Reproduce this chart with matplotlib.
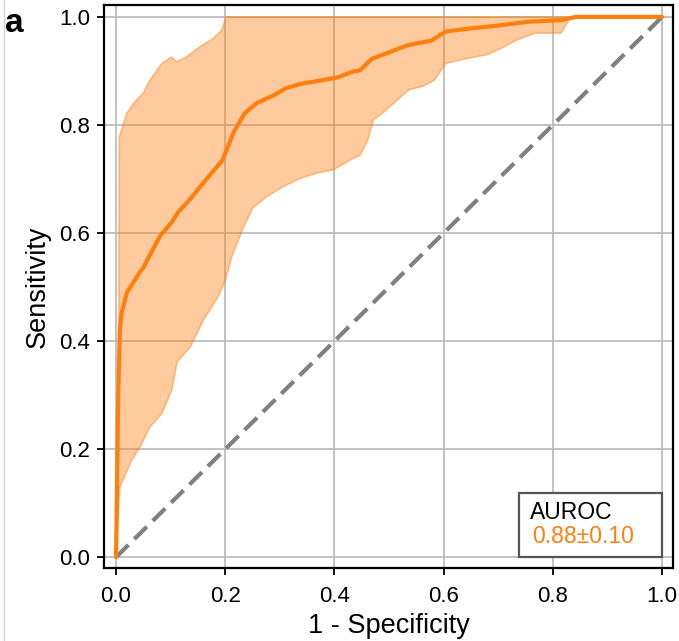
import matplotlib
matplotlib.use("Agg")
import matplotlib.pyplot as plt
from matplotlib.patches import Rectangle
from matplotlib.lines import Line2D

plt.rcParams['font.family'] = ['Liberation Sans', 'DejaVu Sans']

# Mean ROC curve (1 - specificity, sensitivity)
mean_fpr = [0.0, 0.002, 0.004, 0.007, 0.010, 0.020, 0.044, 0.050, 0.062, 0.081,
            0.102, 0.114, 0.136, 0.160, 0.195, 0.216, 0.236, 0.257, 0.291,
            0.311, 0.338, 0.379, 0.406, 0.434, 0.447, 0.468, 0.509, 0.536,
            0.577, 0.604, 0.652, 0.692, 0.754, 0.815, 0.842, 1.0]
mean_tpr = [0.0, 0.15, 0.30, 0.42, 0.451, 0.490, 0.528, 0.536, 0.559, 0.595,
            0.620, 0.639, 0.663, 0.693, 0.735, 0.788, 0.822, 0.840, 0.856,
            0.868, 0.876, 0.883, 0.888, 0.899, 0.901, 0.922, 0.938, 0.948,
            0.956, 0.973, 0.979, 0.983, 0.991, 0.994, 1.0, 1.0]

# Upper bound of the spread across folds
upper_fpr = [0.0, 0.004, 0.006, 0.020, 0.032, 0.050, 0.062, 0.084, 0.102,
             0.111, 0.129, 0.154, 0.178, 0.194, 0.201, 1.0]
upper_tpr = [0.0, 0.10, 0.778, 0.822, 0.840, 0.859, 0.883, 0.914, 0.926,
             0.917, 0.926, 0.945, 0.960, 0.976, 1.0, 1.0]

# Lower bound of the spread across folds
lower_fpr = [0.0, 0.004, 0.007, 0.029, 0.044, 0.062, 0.084, 0.102, 0.112,
             0.136, 0.160, 0.187, 0.200, 0.212, 0.233, 0.251, 0.276, 0.306,
             0.337, 0.368, 0.398, 0.434, 0.447, 0.461, 0.471, 0.488, 0.515,
             0.536, 0.563, 0.583, 0.604, 0.638, 0.679, 0.706, 0.733, 0.767,
             0.815, 0.829, 0.842, 1.0]
lower_tpr = [0.0, 0.08, 0.130, 0.180, 0.204, 0.241, 0.266, 0.309, 0.362,
             0.389, 0.439, 0.482, 0.512, 0.556, 0.610, 0.647, 0.667, 0.686,
             0.701, 0.711, 0.717, 0.738, 0.744, 0.772, 0.809, 0.822, 0.846,
             0.865, 0.872, 0.883, 0.914, 0.922, 0.930, 0.942, 0.957, 0.970,
             0.970, 0.994, 1.0, 1.0]

auroc_title = "AUROC"
auroc_text = "0.88\u00b10.10"
x_ticks = [0.0, 0.2, 0.4, 0.6, 0.8, 1.0]
y_ticks = [0.0, 0.2, 0.4, 0.6, 0.8, 1.0]

orange = '#ff7f0e'

fig = plt.figure(figsize=(6.79, 6.41), dpi=100)
ax = fig.add_axes([0.1532, 0.1139, 0.838, 0.8783])

# shaded band between the lower and upper bounds
band_x = upper_fpr + lower_fpr[::-1]
band_y = upper_tpr + lower_tpr[::-1]
ax.fill(band_x, band_y, facecolor=orange, alpha=0.4, edgecolor='none', zorder=2)
ax.plot(upper_fpr, upper_tpr, color=orange, alpha=0.45, lw=1.2, zorder=2)
ax.plot(lower_fpr, lower_tpr, color=orange, alpha=0.45, lw=1.2, zorder=2)

# chance line and mean curve
ax.plot([0, 1], [0, 1], color='gray', lw=3, ls=(0, (4.2, 2.0)), zorder=3)
ax.plot(mean_fpr, mean_tpr, color=orange, lw=3, zorder=4, solid_capstyle='round')

ax.set_xlim(-0.022, 1.02)
ax.set_ylim(-0.020, 1.022)
ax.set_xticks(x_ticks)
ax.set_yticks(y_ticks)
ax.set_xticklabels([f"{t:.1f}" for t in x_ticks], fontsize=16)
ax.set_yticklabels([f"{t:.1f}" for t in y_ticks], fontsize=16)
ax.tick_params(labelsize=16, length=5, width=1.3, colors='black')
ax.tick_params(axis='y', pad=5)
ax.tick_params(axis='x', pad=8)
ax.grid(True, color='#b8b8b8', lw=1.2, zorder=0)
ax.set_axisbelow(True)
for s in ax.spines.values():
    s.set_linewidth(1.6)
    s.set_color('black')

ax.set_xlabel("1 - Specificity", fontsize=19.5, labelpad=4)
ax.set_ylabel("Sensitivity", fontsize=19.5, labelpad=6)

# AUROC summary box in the lower right corner
ax.add_patch(Rectangle((0.730, 0.020), 0.251, 0.1137, transform=ax.transAxes,
                       facecolor='white', edgecolor='#555555', lw=1.6,
                       zorder=5))
ax.text(0.7487, 0.087, auroc_title, transform=ax.transAxes, fontsize=16.5,
        color='black', va='baseline', ha='left', zorder=6)
ax.text(0.7522, 0.0439, auroc_text, transform=ax.transAxes, fontsize=16.5,
        color=orange, va='baseline', ha='left', zorder=6)

# panel letter and left panel rule
fig.text(0.008, 1 - 32 / 641, "a", fontsize=24, fontweight='bold',
         va='baseline', ha='left')
fig.add_artist(Line2D([3.5 / 679, 3.5 / 679], [0, 1], color='#d6d6d6', lw=1,
                      transform=fig.transFigure))

fig.savefig("out.png", dpi=100)
